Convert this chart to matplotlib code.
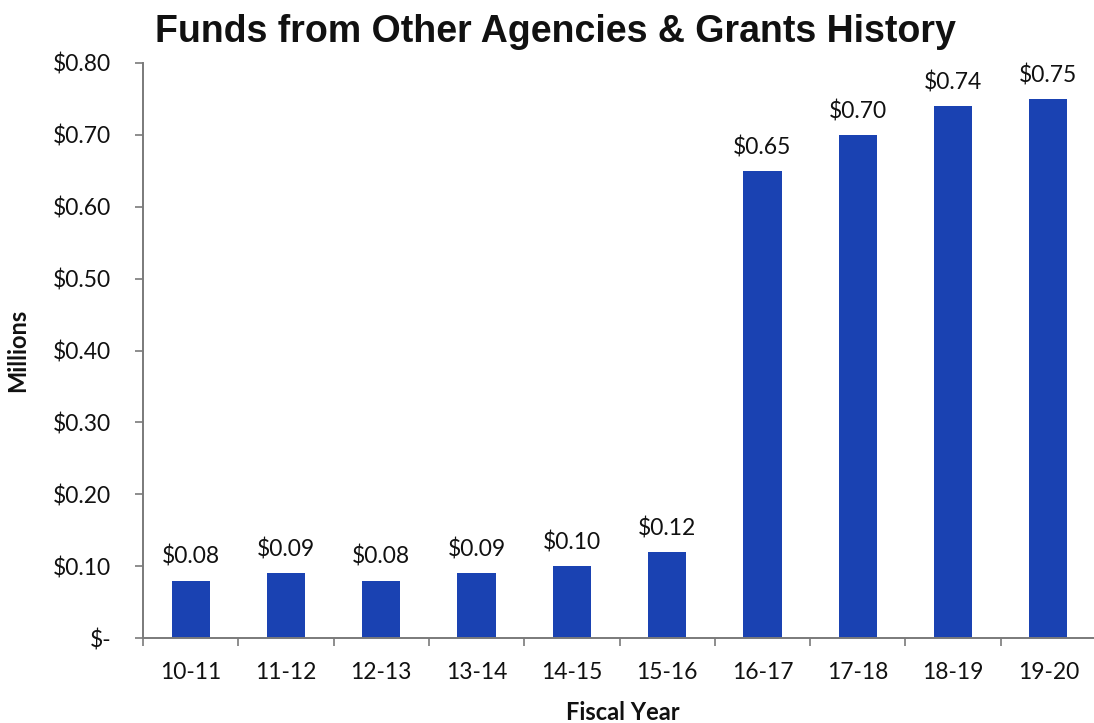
import matplotlib
matplotlib.use("Agg")
import matplotlib.pyplot as plt
from matplotlib.ticker import FixedLocator, FuncFormatter

# Fiscal-year funding history (millions of dollars)
fiscal_years = ["10-11", "11-12", "12-13", "13-14", "14-15",
                "15-16", "16-17", "17-18", "18-19", "19-20"]
funds_millions = [0.08, 0.09, 0.08, 0.09, 0.10, 0.12, 0.65, 0.70, 0.74, 0.75]
y_ticks = [0.0, 0.1, 0.2, 0.3, 0.4, 0.5, 0.6, 0.7, 0.8]

bar_color = "#1A42B2"
axis_color = "#7a7a7a"
label_font = ["Lato", "DejaVu Sans"]
label_size = 16.5

fig = plt.figure(figsize=(10.94, 7.23), dpi=100)
ax = fig.add_axes([143 / 1094, 1 - 638 / 723, (1096 - 143) / 1094, (638 - 63) / 723])

x = list(range(len(fiscal_years)))
ax.bar(x, funds_millions, width=0.4, color=bar_color, zorder=2)

for xi, v in zip(x, funds_millions):
    ax.annotate(f"${v:.2f}", (xi, v), xytext=(0, 9), textcoords="offset points",
                ha="center", va="bottom", fontsize=label_size, family=label_font,
                color="#111111")

ax.set_xlim(-0.5, len(fiscal_years) - 0.5)
ax.set_ylim(0, 0.8)

# y axis: dollar labels, "$-" at zero
ax.yaxis.set_major_locator(FixedLocator(y_ticks))
ax.yaxis.set_major_formatter(FuncFormatter(lambda v, _: "$-" if abs(v) < 1e-9 else f"${v:.2f}"))

# x axis: category labels centred, tick marks at category boundaries
ax.set_xticks(x)
ax.set_xticklabels(fiscal_years)
ax.set_xticks([i - 0.5 for i in range(len(fiscal_years) + 1)], minor=True)
ax.tick_params(axis="x", which="major", length=0, pad=17, labelsize=label_size)
ax.tick_params(axis="x", which="minor", length=6, width=1.2, color=axis_color, direction="out")
ax.tick_params(axis="y", which="major", length=6, width=1.2, color=axis_color,
               direction="out", pad=17, labelsize=label_size)
for lab in ax.get_xticklabels() + ax.get_yticklabels():
    lab.set_family(label_font)
    lab.set_color("#111111")

for side in ("top", "right"):
    ax.spines[side].set_visible(False)
for side in ("left", "bottom"):
    ax.spines[side].set_color(axis_color)
    ax.spines[side].set_linewidth(1.4)

fig.text(555 / 1094, 1 - 32 / 723, "Funds from Other Agencies & Grants History",
         ha="center", va="center", fontsize=27, fontweight="bold",
         family=["Liberation Sans", "DejaVu Sans"], color="#111111")
fig.text(18 / 1094, 1 - 350 / 723, "Millions", rotation=90, ha="center", va="center",
         fontsize=17, fontweight="bold", family=label_font, color="#111111")
fig.text(623 / 1094, 1 - 712 / 723, "Fiscal Year", ha="center", va="center",
         fontsize=17, fontweight="bold", family=label_font, color="#111111")

fig.savefig("out.png", dpi=100, facecolor="white")
